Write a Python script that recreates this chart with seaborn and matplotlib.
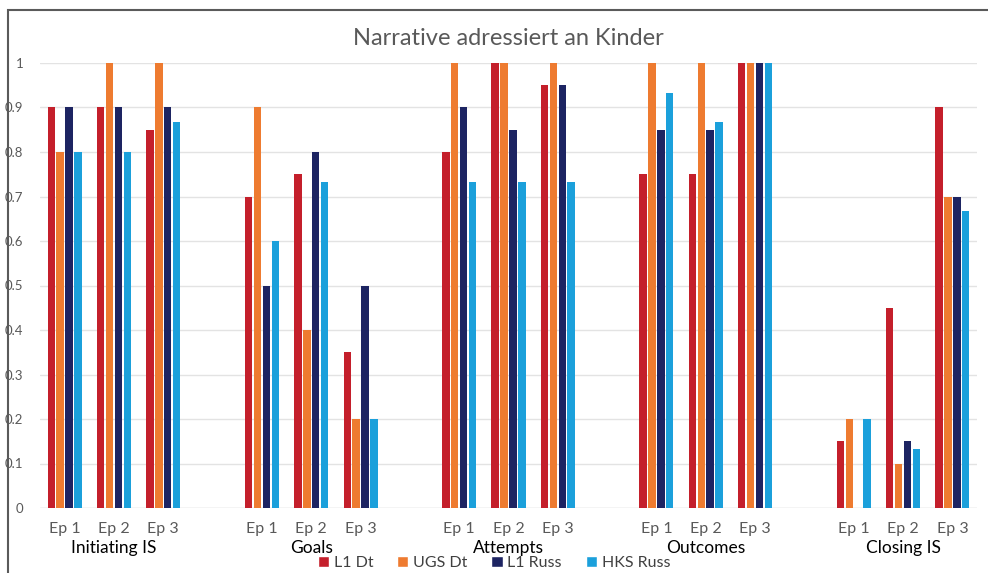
import pandas as pd
import seaborn as sns
import matplotlib.pyplot as plt
from matplotlib.patches import Rectangle, Patch

# Daten
groups = ['Initiating IS', 'Goals', 'Attempts', 'Outcomes', 'Closing IS']
episodes = ['Ep 1', 'Ep 2', 'Ep 3']
series = ['L1 Dt', 'UGS Dt', 'L1 Russ', 'HKS Russ']
colors = ['#C41F2B', '#EE7B30', '#1D2462', '#1BA0DB']

l1_dt = [0.9, 0.9, 0.85, 0.7, 0.75, 0.35, 0.8, 1.0, 0.95, 0.75, 0.75, 1.0, 0.15, 0.45, 0.9]
ugs_dt = [0.8, 1.0, 1.0, 0.9, 0.4, 0.2, 1.0, 1.0, 1.0, 1.0, 1.0, 1.0, 0.2, 0.1, 0.7]
l1_russ = [0.9, 0.9, 0.9, 0.5, 0.8, 0.5, 0.9, 0.85, 0.95, 0.85, 0.85, 1.0, 0.0, 0.15, 0.7]
hks_russ = [0.8, 0.8, 0.867, 0.6, 0.733, 0.2, 0.733, 0.733, 0.733, 0.933, 0.867, 1.0, 0.2, 0.133, 0.667]

# slot positions: 3 episodes per group, one empty slot between groups
pos = [g * 4 + e for g in range(len(groups)) for e in range(len(episodes))]

rows = []
for name, vals in zip(series, [l1_dt, ugs_dt, l1_russ, hks_russ]):
    for p, v in zip(pos, vals):
        rows.append({'pos': p, 'value': v, 'series': name})
df = pd.DataFrame(rows)

sns.set_style('white')
plt.rcParams['font.family'] = ['Lato', 'DejaVu Sans']

fig = plt.figure(figsize=(9.88, 5.73), dpi=100)
ax = fig.add_axes([40 / 988, 1 - 508 / 573, 937 / 988, 445 / 573])

sns.barplot(data=df, x='pos', y='value', hue='series', hue_order=series,
            palette=colors, saturation=1, native_scale=True, width=0.72, gap=0.16,
            errorbar=None, legend=False, ax=ax, zorder=3, linewidth=0)

ax.set_xlim(-0.5, 18.5)
ax.set_ylim(0, 1.0)
ax.set_yticks([i / 10 for i in range(11)])
ax.set_yticklabels(['0', '0.1', '0.2', '0.3', '0.4', '0.5', '0.6', '0.7', '0.8', '0.9', '1'],
                   color='#595959', fontsize=9.5)
ax.tick_params(axis='y', length=0, pad=12)
ax.set_xticks(pos)
ax.set_xticklabels(episodes * len(groups), color='#595959', fontsize=11.5)
ax.tick_params(axis='x', length=0, pad=10)
ax.grid(axis='y', color='#E3E3E3', linewidth=1, zorder=0)
ax.set_xlabel('')
ax.set_ylabel('')
for s in ax.spines.values():
    s.set_visible(False)
ax.axhline(0, color='#E3E3E3', linewidth=1, zorder=1)

for g, name in enumerate(groups):
    ax.text(g * 4 + 1, -0.09, name, transform=ax.get_xaxis_transform(),
            ha='center', va='center', fontsize=12.5, color='black')

ax.set_title('Narrative adressiert an Kinder', fontsize=17, color='#595959', pad=13)

handles = [Patch(facecolor=c, label=s) for s, c in zip(series, colors)]
fig.legend(handles=handles, loc='center', bbox_to_anchor=(0.5, 1 - 563 / 573), ncol=4,
           frameon=False, fontsize=11.5, handlelength=0.7, handleheight=0.7,
           handletextpad=0.3, columnspacing=1.5, labelcolor='#404040')

fig.patches.append(Rectangle((8 / 988, -0.05), 1.2, 1 - 10 / 573 + 0.05,
                             transform=fig.transFigure, fill=False,
                             edgecolor='#5A5A5A', linewidth=1.5))

plt.savefig('out.png', dpi=100)
plt.close()
